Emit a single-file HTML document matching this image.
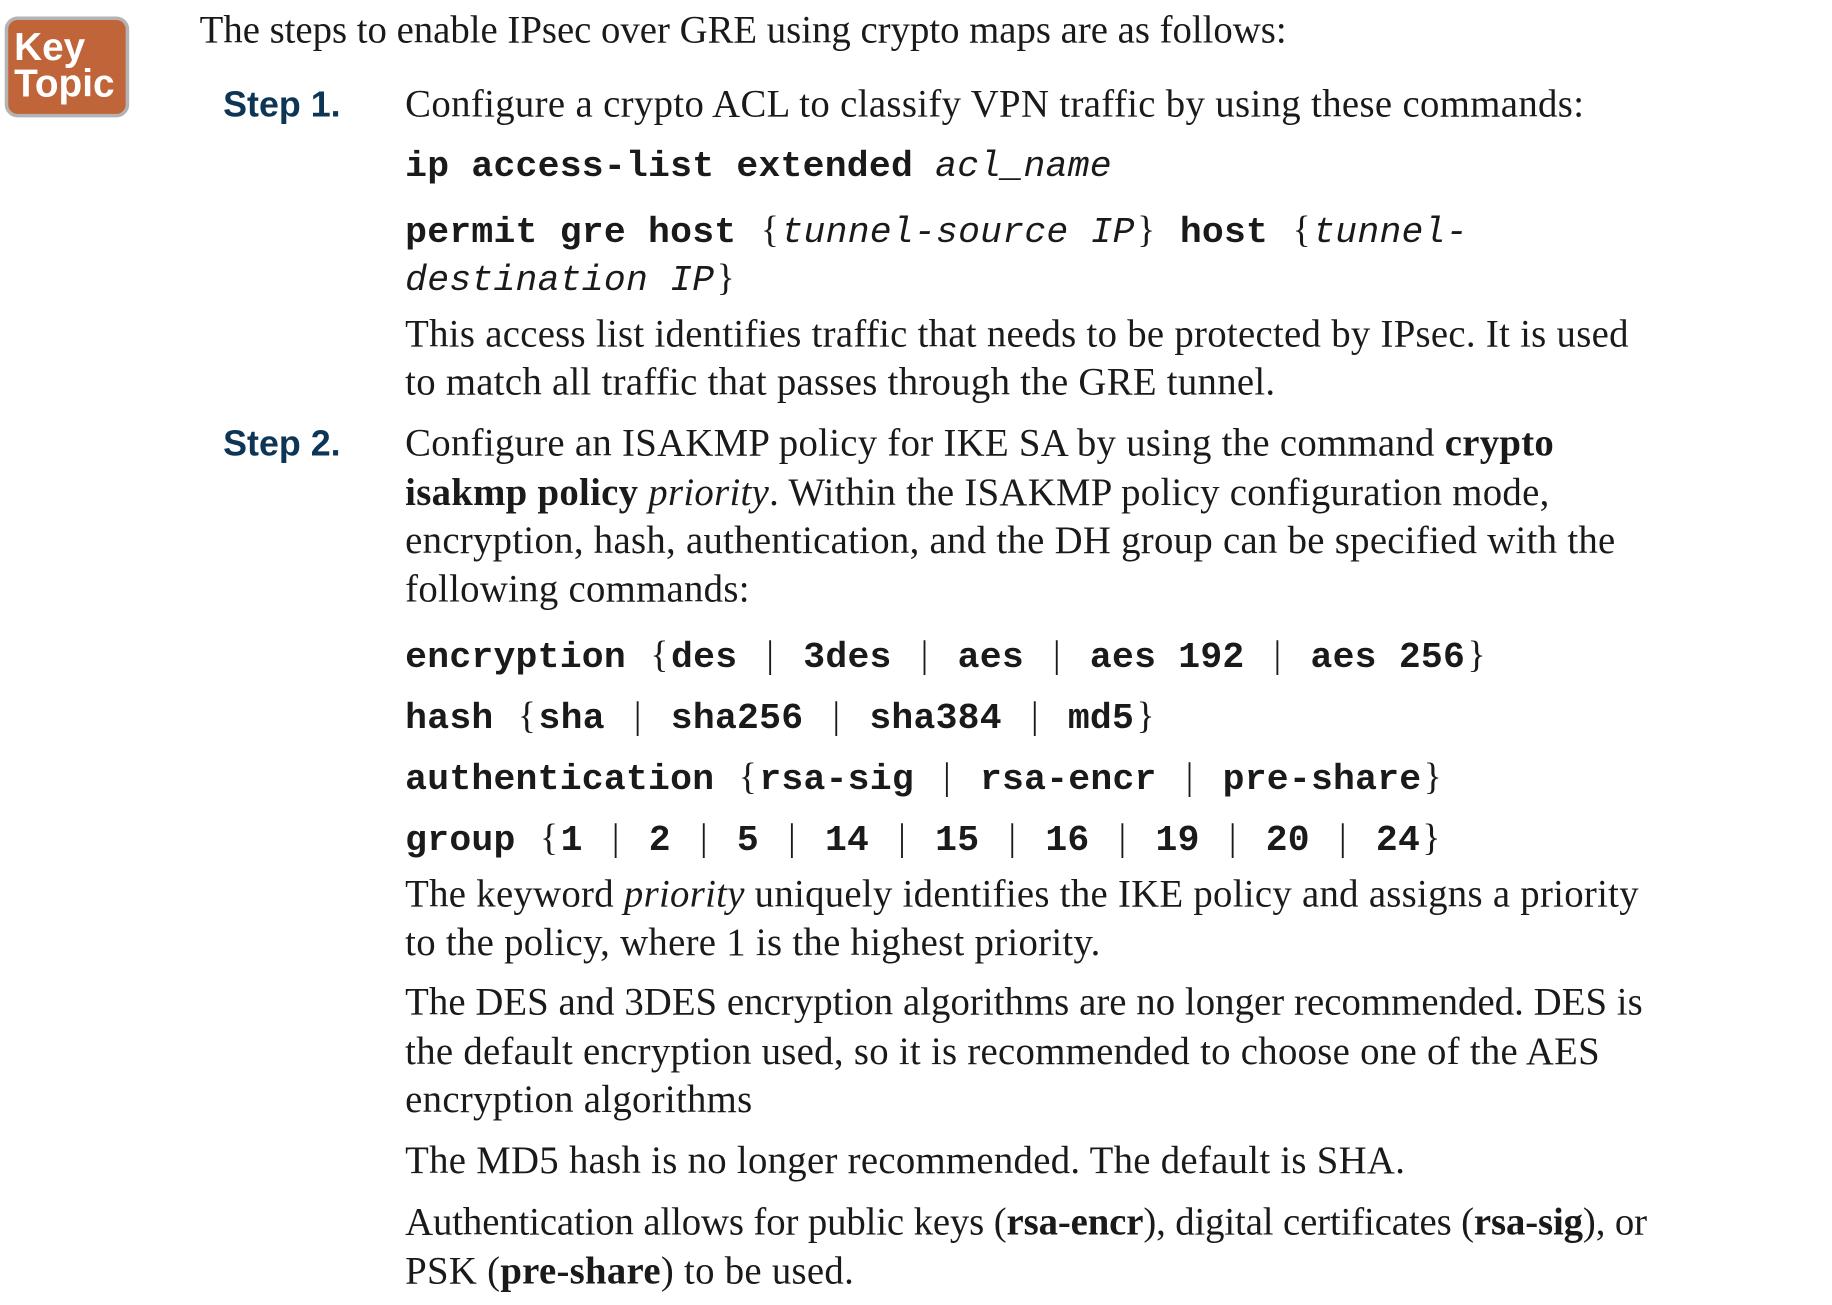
<!DOCTYPE html>
<html><head><meta charset="utf-8"><style>
html,body{margin:0;padding:0;background:#fff;width:1832px;height:1304px;overflow:hidden}
#c{position:absolute;left:0;top:0;width:1560px;height:1111px;transform:scale(1.17436);transform-origin:0 0}
.l{position:absolute;white-space:pre;line-height:40px;height:40px;font-family:"Liberation Serif",serif;font-size:33px;letter-spacing:0.25px;color:#1a1a1a}
.m{font-family:"Liberation Mono",monospace;font-weight:bold;font-size:31px;letter-spacing:0.2px;margin-top:2px}
.m i{font-weight:normal}
.s{font-family:"Liberation Serif",serif;font-weight:normal;font-size:32px;margin:0 2px}
.p{font-family:"Liberation Serif",serif;font-weight:normal;font-size:32px;margin:0 6px}
.st{position:absolute;font-family:"Liberation Sans",sans-serif;font-weight:bold;font-size:30.5px;color:#0d3556;line-height:40px;white-space:pre}
#kt{position:absolute;left:4px;top:14px;width:100px;height:80px;background:#c0653a;border:3px solid #b3b3b3;border-radius:11px}
#kt div{position:absolute;left:5px;font-family:"Liberation Sans",sans-serif;font-weight:bold;color:#fff;font-size:33px;line-height:31px}
</style></head><body><div id="c">
<div id="kt"><div style="top:7px">Key</div><div style="top:38px">Topic</div></div>
<div class="l" style="left:170px;top:6px;letter-spacing:0">The steps to enable IPsec over GRE using crypto maps are as follows:</div>
<div class="st" style="left:190px;top:69px">Step 1.</div>
<div class="l" style="left:345px;top:69px;letter-spacing:0.3px">Configure a crypto ACL to classify VPN traffic by using these commands:</div>
<div class="l m" style="left:345px;top:121px">ip access-list extended <i>acl_name</i></div>
<div class="l m" style="left:345px;top:173px">permit gre host <span class="s">{</span><i>tunnel-source IP</i><span class="s">}</span> host <span class="s">{</span><i>tunnel-</i></div>
<div class="l m" style="left:345px;top:214px"><i>destination IP</i><span class="s">}</span></div>
<div class="l" style="left:345px;top:265px">This access list identifies traffic that needs to be protected by IPsec. It is used</div>
<div class="l" style="left:345px;top:306px">to match all traffic that passes through the GRE tunnel.</div>
<div class="st" style="left:190px;top:358px">Step 2.</div>
<div class="l" style="left:345px;top:358px">Configure an ISAKMP policy for IKE SA by using the command <b>crypto</b></div>
<div class="l" style="left:345px;top:400px"><b>isakmp policy</b> <i>priority</i>. Within the ISAKMP policy configuration mode,</div>
<div class="l" style="left:345px;top:441px">encryption, hash, authentication, and the DH group can be specified with the</div>
<div class="l" style="left:345px;top:482px">following commands:</div>
<div class="l m" style="left:345px;top:535px">encryption <span class="s">{</span>des <span class="p">|</span> 3des <span class="p">|</span> aes <span class="p">|</span> aes 192 <span class="p">|</span> aes 256<span class="s">}</span></div>
<div class="l m" style="left:345px;top:587px">hash <span class="s">{</span>sha <span class="p">|</span> sha256 <span class="p">|</span> sha384 <span class="p">|</span> md5<span class="s">}</span></div>
<div class="l m" style="left:345px;top:639px">authentication <span class="s">{</span>rsa-sig <span class="p">|</span> rsa-encr <span class="p">|</span> pre-share<span class="s">}</span></div>
<div class="l m" style="left:345px;top:691px">group <span class="s">{</span>1 <span class="p">|</span> 2 <span class="p">|</span> 5 <span class="p">|</span> 14 <span class="p">|</span> 15 <span class="p">|</span> 16 <span class="p">|</span> 19 <span class="p">|</span> 20 <span class="p">|</span> 24<span class="s">}</span></div>
<div class="l" style="left:345px;top:742px">The keyword <i>priority</i> uniquely identifies the IKE policy and assigns a priority</div>
<div class="l" style="left:345px;top:783px">to the policy, where 1 is the highest priority.</div>
<div class="l" style="left:345px;top:834px;letter-spacing:0.05px">The DES and 3DES encryption algorithms are no longer recommended. DES is</div>
<div class="l" style="left:345px;top:876px">the default encryption used, so it is recommended to choose one of the AES</div>
<div class="l" style="left:345px;top:917px">encryption algorithms</div>
<div class="l" style="left:345px;top:969px">The MD5 hash is no longer recommended. The default is SHA.</div>
<div class="l" style="left:345px;top:1021px;letter-spacing:-0.1px">Authentication allows for public keys (<b>rsa-encr</b>), digital certificates (<b>rsa-sig</b>), or</div>
<div class="l" style="left:345px;top:1063px">PSK (<b>pre-share</b>) to be used.</div>
</div></body></html>
